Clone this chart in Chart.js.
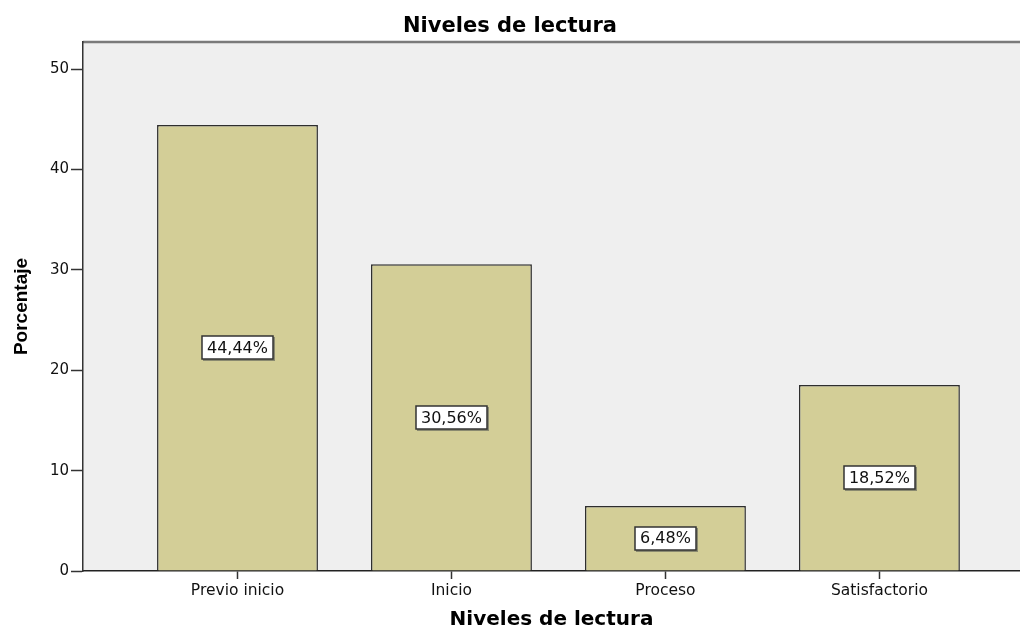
<!DOCTYPE html>
<html>
<head>
<meta charset="utf-8">
<script src="https://cdn.jsdelivr.net/npm/chart.js@4"></script>
<style>
  body { margin: 0; background: #fff; }
  canvas { display: block; }
</style>
</head>
<body>
<canvas id="chart" width="1020" height="627"></canvas>
<script>
// Data
const categories = ['Previo inicio', 'Inicio', 'Proceso', 'Satisfactorio'];
const percentages = [44.44, 30.56, 6.48, 18.52];
const percentLabels = ['44,44%', '30,56%', '6,48%', '18,52%'];
const yTicks = [0, 10, 20, 30, 40, 50];

// Plot background + top border
const plotFrame = {
    id: 'plotFrame',
    beforeDraw(chart) {
        const { ctx, chartArea: a } = chart;
        ctx.save();
        ctx.fillStyle = '#efefef';
        ctx.fillRect(a.left, a.top, a.right - a.left, a.bottom - a.top);
        ctx.strokeStyle = '#7a7a7a';
        ctx.lineWidth = 2.5;
        ctx.beginPath();
        ctx.moveTo(a.left, a.top);
        ctx.lineTo(a.right, a.top);
        ctx.stroke();
        ctx.restore();
    }
};

// Percentage boxes in the middle of each bar
const boxLabels = {
    id: 'boxLabels',
    afterDatasetsDraw(chart) {
        const ctx = chart.ctx;
        const meta = chart.getDatasetMeta(0);
        ctx.save();
        ctx.font = '16px "DejaVu Sans"';
        ctx.textAlign = 'center';
        ctx.textBaseline = 'middle';
        meta.data.forEach((bar, i) => {
            const text = percentLabels[i];
            const cx = bar.x;
            const cy = (bar.y + bar.base) / 2;
            const w = Math.round(ctx.measureText(text).width) + 10;
            const h = 23;
            const x = Math.round(cx - w / 2), y = Math.round(cy - h / 2);
            ctx.fillStyle = '#8a8a70';
            ctx.fillRect(x + 1, y + 1, w + 1, h + 1);
            ctx.fillStyle = '#fff';
            ctx.fillRect(x, y, w, h);
            ctx.strokeStyle = '#333';
            ctx.lineWidth = 1.5;
            ctx.strokeRect(x, y, w, h);
            ctx.fillStyle = '#111';
            ctx.fillText(text, cx, cy + 1);
        });
        ctx.restore();
    }
};

new Chart(document.getElementById('chart').getContext('2d'), {
    type: 'bar',
    data: {
        datasets: [{
            data: percentages.map((v, i) => ({ x: i, y: v })),
            backgroundColor: '#d3ce97',
            borderColor: '#2e2e2e',
            borderWidth: 1.5,
            categoryPercentage: 1,
            barPercentage: 0.752
        }]
    },
    options: {
        responsive: false,
        devicePixelRatio: 1,
        animation: false,
        layout: { padding: 0 },
        plugins: {
            legend: { display: false },
            tooltip: { enabled: false },
            title: {
                display: true,
                text: 'Niveles de lectura',
                color: '#000',
                font: { family: 'DejaVu Sans', size: 21, weight: 'bold', lineHeight: 1.2 },
                padding: { top: 13.5, bottom: 3.3 }
            }
        },
        scales: {
            x: {
                type: 'linear',
                offset: false,
                min: -0.722,
                max: 3.657,
                afterBuildTicks: scale => { scale.ticks = categories.map((c, i) => ({ value: i })); },
                afterFit: scale => { scale.height = 56; },
                ticks: {
                    autoSkip: false,
                    maxRotation: 0,
                    padding: 3,
                    color: '#111',
                    font: { family: 'DejaVu Sans', size: 15.5 },
                    callback: value => categories[value]
                },
                grid: { offset: false, drawOnChartArea: false, tickLength: 8, color: '#333', tickWidth: 1.5 },
                border: { color: '#222', width: 1.5 },
                title: {
                    display: true,
                    text: 'Niveles de lectura',
                    color: '#000',
                    font: { family: 'DejaVu Sans', size: 20, weight: 'bold', lineHeight: 0.7 },
                    padding: 0
                }
            },
            y: {
                min: 0,
                max: 52.7,
                afterBuildTicks: scale => { scale.ticks = yTicks.map(v => ({ value: v })); },
                afterFit: scale => { scale.width = 83; },
                ticks: {
                    padding: 2,
                    color: '#111',
                    font: { family: 'DejaVu Sans', size: 15 }
                },
                grid: { drawOnChartArea: false, tickLength: 12, color: '#333', tickWidth: 1.5 },
                border: { color: '#333', width: 1.5 },
                title: {
                    display: true,
                    text: 'Porcentaje',
                    color: '#000',
                    font: { family: 'Liberation Sans', size: 19, weight: 'bold', lineHeight: 1.2 },
                    padding: { top: 10, bottom: 0 }
                }
            }
        }
    },
    plugins: [plotFrame, boxLabels]
});
</script>
</body>
</html>
